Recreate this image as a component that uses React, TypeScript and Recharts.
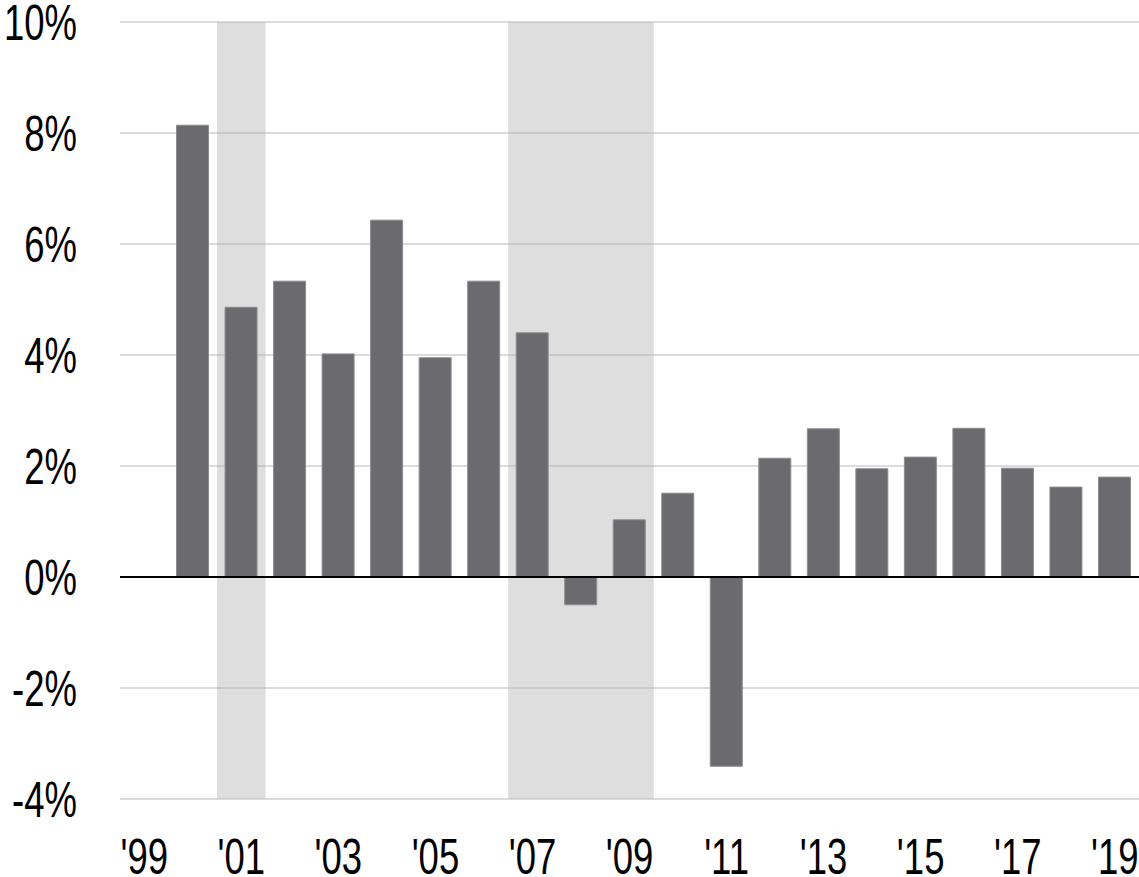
import { BarChart, Bar, XAxis, YAxis, CartesianGrid, ReferenceArea, ReferenceLine } from 'recharts';

// year labels, '99 has no bar
const years = ["'99", "'00", "'01", "'02", "'03", "'04", "'05", "'06", "'07", "'08", "'09", "'10", "'11", "'12", "'13", "'14", "'15", "'16", "'17", "'18", "'19"];
const growth = [null, 8.14, 4.86, 5.33, 4.02, 6.43, 3.95, 5.33, 4.4, -0.5, 1.03, 1.51, -3.41, 2.14, 2.67, 1.95, 2.16, 2.68, 1.96, 1.62, 1.8];
const yTicks = [-4, -2, 0, 2, 4, 6, 8, 10];
// recession shading (start year, end year)
const recessions = [["'01", "'01"], ["'07", "'09"]];

const data = years.map((y, i) => ({ year: y, value: growth[i] }));

const FONT = "'Liberation Sans', Arial, sans-serif";
const NARROW = 0.73; // no narrow font installed, squeeze the regular one

const YTick = (props: any) => {
    const { y, payload } = props;
    return (
        <g transform={`translate(77, ${y}) scale(${NARROW}, 1)`}>
            <text x={0} y={0} dy={18} textAnchor="end" fill="#000" fontSize={50} fontFamily={FONT}>
                {`${payload.value}%`}
            </text>
        </g>
    );
};

const XTick = (props: any) => {
    const { x, payload } = props;
    return (
        <g transform={`translate(${x}, 874) scale(${NARROW}, 1)`}>
            <text x={0} y={0} textAnchor="middle" fill="#000" fontSize={50} fontFamily={FONT}>
                {payload.value}
            </text>
        </g>
    );
};

export default function App() {
    return (
        <div style={{ position: 'absolute', left: 0, top: 0, background: '#fff' }}>
            <BarChart width={1139} height={877} data={data} margin={{ top: 22, right: 0, bottom: 0, left: 0 }}>
                <CartesianGrid vertical={false} stroke="#dcdcdc" strokeWidth={2} />
                {recessions.map(([a, b], i) => (
                    <ReferenceArea key={i} x1={a} x2={b} y1={-4} y2={10} fill="#a6a6a6" fillOpacity={0.37} stroke="none" />
                ))}
                <XAxis
                    dataKey="year"
                    interval={1}
                    axisLine={false}
                    tickLine={false}
                    tickSize={0}
                    height={78}
                    tick={<XTick />}
                />
                <YAxis
                    domain={[-4, 10]}
                    ticks={yTicks}
                    axisLine={false}
                    tickLine={false}
                    tickSize={0}
                    width={120}
                    tick={<YTick />}
                />
                <Bar dataKey="value" fill="#6b6b6f" stroke="#8c8c90" strokeWidth={1} barSize={32} isAnimationActive={false} />
                <ReferenceLine y={0} stroke="#000" strokeWidth={2} />
            </BarChart>
        </div>
    );
}
